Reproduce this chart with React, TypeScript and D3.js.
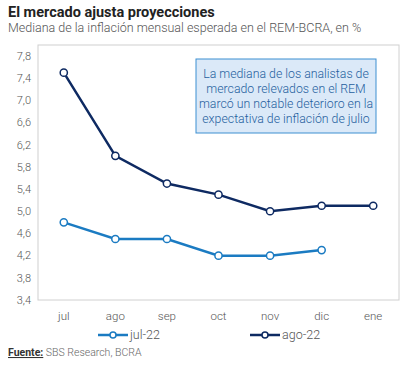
import React from "react";
import * as d3 from "d3";

const categories = ["jul", "ago", "sep", "oct", "nov", "dic", "ene"];
const jul22: (number | null)[] = [4.8, 4.5, 4.5, 4.2, 4.2, 4.3, null];
const ago22: (number | null)[] = [7.5, 6.0, 5.5, 5.3, 5.0, 5.1, 5.1];
const yTicks = [3.4, 3.8, 4.2, 4.6, 5.0, 5.4, 5.8, 6.2, 6.6, 7.0, 7.4, 7.8];
const seriesNames = ["jul-22", "ago-22"];
const annotation = [
  "La mediana de los analistas de",
  "mercado relevados en el REM",
  "marcó un notable deterioro en la",
  "expectativa de inflación de julio",
];

const C1 = "#1b7bc2";
const C2 = "#0e2a62";
const FONT = "Roboto, 'Open Sans', sans-serif";

export default function App() {
  const W = 408, H = 369;
  const left = 38, right = 399, top = 45, bottom = 300;
  const x = d3.scaleBand<string>().domain(categories).range([left, right]);
  const y = d3.scaleLinear().domain([3.4, 7.8]).range([300, 56]);
  const cx = (c: string) => (x(c) as number) + x.bandwidth() / 2;
  const line = d3
    .line<number | null>()
    .defined((d) => d !== null)
    .x((_, i) => cx(categories[i]))
    .y((d) => y(d as number));

  const series = [
    { name: seriesNames[0], data: jul22, color: C1 },
    { name: seriesNames[1], data: ago22, color: C2 },
  ];

  return (
    <svg width={W} height={H} style={{ position: "absolute", left: 0, top: 0, fontFamily: FONT }}>
      <rect width={W} height={H} fill="#fff" />
      <text x={8} y={16.5} fontSize={14.5} fontWeight={700} fill="#222">El mercado ajusta proyecciones</text>
      <text x={8} y={32} fontSize={12.5} fontWeight={300} fill="#555">Mediana de la inflación mensual esperada en el REM-BCRA, en %</text>
      <rect x={left} y={top} width={right - left} height={bottom - top} fill="none" stroke="#d0d0d0" strokeWidth={1} />
      {yTicks.map((t) => (
        <text key={t} x={31} y={y(t)} dy="0.35em" textAnchor="end" fontSize={11} fontWeight={300} fill="#555">
          {d3.format(".1f")(t).replace(".", ",")}
        </text>
      ))}
      {categories.map((c) => (
        <text key={c} x={cx(c)} y={320} textAnchor="middle" fontSize={11.5} fontWeight={300} fill="#555">{c}</text>
      ))}
      {series.map((s) => (
        <g key={s.name}>
          <path d={line(s.data) || ""} fill="none" stroke={s.color} strokeWidth={2.5} />
          {s.data.map((d, i) =>
            d === null ? null : (
              <circle key={i} cx={cx(categories[i])} cy={y(d)} r={3.6} fill="#fff" stroke={s.color} strokeWidth={1.5} />
            )
          )}
        </g>
      ))}
      <rect x={196} y={59} width={180} height={74} fill="#dbe9f8" stroke="#3d8fd1" strokeWidth={1} />
      {annotation.map((t, i) => (
        <text key={i} x={286} y={78 + i * 15} textAnchor="middle" fontSize={12.3} fontWeight={300} fill="#1f5f9e">{t}</text>
      ))}
      {series.map((s, i) => {
        const lx = i === 0 ? 98 : 250;
        return (
          <g key={s.name}>
            <line x1={lx} x2={lx + 30} y1={335} y2={335} stroke={s.color} strokeWidth={2.5} />
            <circle cx={lx + 15} cy={335} r={3} fill="#fff" stroke={s.color} strokeWidth={1.5} />
            <text x={lx + 32} y={335} dy="0.35em" fontSize={12.5} fontWeight={300} fill="#555">{s.name}</text>
          </g>
        );
      })}
      <text x={8} y={356} fontSize={10.5} fill="#444">
        <tspan fontWeight={700} textDecoration="underline" fill="#333">Fuente:</tspan>
        <tspan fill="#666" fontWeight={300}> SBS Research, BCRA</tspan>
      </text>
    </svg>
  );
}
